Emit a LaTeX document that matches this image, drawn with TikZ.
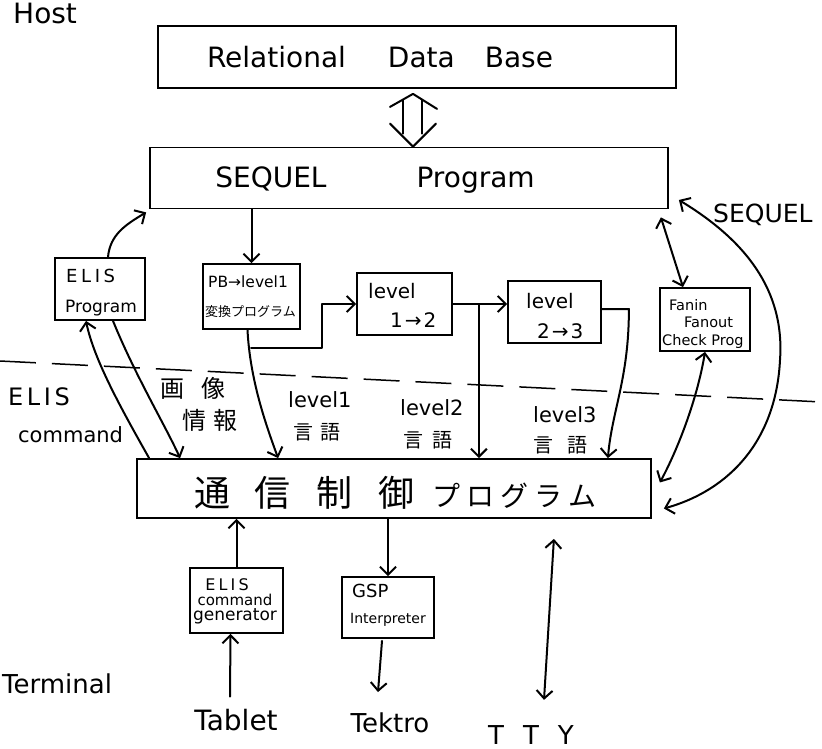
\documentclass[tikz,border=0pt]{standalone}
\usepackage{fontspec}
\setmainfont{DejaVu Sans}
\newfontfamily\jp{Noto Sans CJK JP}
\usetikzlibrary{arrows.meta,calc}
\begin{document}
\begin{tikzpicture}[x=1pt,y=-1pt,
  box/.style={draw, line width=1.8pt, inner sep=0pt},
  conn/.style={line width=2pt, line cap=round, line join=round},
  tipv/.tip={Straight Barb[length=8pt,width=16pt]},
  arr/.style={conn, -tipv},
  barr/.style={conn, tipv-tipv},
  txt/.style={inner sep=0pt},
  fs/.style={font=\fontsize{#1}{#1}\selectfont},
  jfs/.style={font=\jp\fontsize{#1}{#1}\selectfont},
]
\useasboundingbox (0,0) rectangle (822,749);

% boxes
\node[box, minimum width=518pt, minimum height=62pt] (rdb) at (417,57) {};
\node[box, minimum width=518pt, minimum height=61pt] (seq) at (409,178) {};
\node[box, minimum width=90pt, minimum height=62pt] (elisp) at (100,289) {};
\node[box, minimum width=97pt, minimum height=65pt] (pb) at (251.5,296.5) {};
\node[box, minimum width=95pt, minimum height=62pt] (l12) at (404.5,304) {};
\node[box, minimum width=93pt, minimum height=62pt] (l23) at (554.5,312) {};
\node[box, minimum width=90pt, minimum height=63pt] (fan) at (705,319.5) {};
\node[box, minimum width=514pt, minimum height=59pt] (comm) at (394,488.5) {};
\node[box, minimum width=93pt, minimum height=65pt] (gen) at (236.5,600.5) {};
\node[box, minimum width=92pt, minimum height=61pt] (gsp) at (388,607.5) {};

% texts
\node[txt, fs=28, anchor=base west] (host) at (13,24) {Host};
\node[txt, fs=28] (rdbt) at (380,57) {Relational\hspace{42pt}Data\hspace{30pt}Base};
\node[txt, fs=28, anchor=base] (seqt) at (375,187) {SEQUEL\hspace{90pt}Program};

\node[txt, fs=18, anchor=base west] (elisp1) at (66,282) {\addfontfeatures{LetterSpace=20}ELIS};
\node[txt, fs=17, anchor=base west] (elisp2) at (65,312) {Program};

\node[txt, fs=15.5, anchor=base west] (pb1) at (208,287) {PB→level1};
\node[txt, jfs=13, anchor=base west] (pb2) at (205,316) {変換プログラム};

\node[txt, fs=20, anchor=base west] (l12a) at (368,298) {level};
\node[txt, fs=20, anchor=base west] (l12b) at (390,327) {\addfontfeatures{LetterSpace=10}1→2};
\node[txt, fs=20, anchor=base west] (l23a) at (526,308) {level};
\node[txt, fs=20, anchor=base west] (l23b) at (537,338) {\addfontfeatures{LetterSpace=10}2→3};

\node[txt, fs=14.5, anchor=base west] (fan1) at (669,310) {Fanin};
\node[txt, fs=14.5, anchor=base west] (fan2) at (684,327) {Fanout};
\node[txt, fs=14.5, anchor=base west] (fan3) at (662,345) {Check Prog};

\node[txt, fs=24, anchor=base west] (elisl) at (8,405) {\addfontfeatures{LetterSpace=15}ELIS};
\node[txt, fs=21, anchor=base west] (cmdl) at (18,442) {command};
\node[txt, jfs=24, anchor=west] (gazo) at (160,388) {画\hspace{17pt}像};
\node[txt, jfs=24, anchor=west] (joho) at (182,420) {情\hspace{7pt}報};

\node[txt, fs=21, anchor=base west] (lv1) at (288,407) {level1};
\node[txt, jfs=20, anchor=west] (lg1) at (293,432) {言\hspace{7pt}語};
\node[txt, fs=21, anchor=base west] (lv2) at (400,415) {level2};
\node[txt, jfs=20, anchor=west] (lg2) at (403,440) {言\hspace{9pt}語};
\node[txt, fs=21, anchor=base west] (lv3) at (533,422) {level3};
\node[txt, jfs=20, anchor=west] (lg3) at (533,445) {言\hspace{14pt}語};

\node[txt, fs=25, anchor=base west] (seql) at (713,222) {SEQUEL};

\node[txt, jfs=36, anchor=west] (commt) at (194,493) {通\hspace{24pt}信\hspace{26pt}制\hspace{26pt}御\hspace{18pt}{\fontsize{28}{28}\selectfont プ\hspace{6pt}ロ\hspace{6pt}グ\hspace{6pt}ラ\hspace{6pt}ム}};

\node[txt, fs=16, anchor=base] (gen1) at (227,590) {\addfontfeatures{LetterSpace=20}ELIS};
\node[txt, fs=15, anchor=base] (gen2) at (235,605) {command};
\node[txt, fs=17, anchor=base] (gen3) at (235,620) {generator};

\node[txt, fs=18, anchor=base west] (gsp1) at (352,597) {GSP};
\node[txt, fs=14, anchor=base] (gsp2) at (388,623) {Interpreter};

\node[txt, fs=26, anchor=base west] (term) at (2,693) {Terminal};
\node[txt, fs=28, anchor=base] (tab) at (236,730) {Tablet};
\node[txt, fs=26, anchor=base] (tek) at (390,732) {Tektro};
\node[txt, fs=26, anchor=base] (tty) at (531,744) {T\hspace{19pt}T\hspace{19pt}Y};

% dashed separator
\coordinate (dl) at (0,361);
\coordinate (dr) at (822,402);
\draw[line width=1.5pt, dash pattern=on 36pt off 16pt] (dl) -- (dr);

% hollow double arrow between data base and SEQUEL program
\coordinate (ta) at ($(rdb.south)+(-4,5)$);
\coordinate (ba) at ($(seq.north)+(4,0)$);
\draw[conn] ($(ta)+(-23,13)$) -- (ta) -- ($(ta)+(24,15)$);
\draw[conn] ($(ba)+(-23,-23)$) -- (ba) -- ($(ba)+(23,-23)$);
\draw[conn] ($(ta)+(-10,6)$) -- ($(ba)+(-10,-13)$);
\draw[conn] ($(ta)+(9,6)$) -- ($(ba)+(9,-13)$);

% connectors
\draw[arr] ($(elisp.north)+(8,0)$) .. controls (110,235) and (125,225) .. ($(seq.south west)+(-3,3)$);
\draw[arr] (pb.north |- seq.south) -- (pb.north);
\draw[arr] ($(pb.south)+(-4,0)$) .. controls (250,380) and (266,425) .. ($(comm.north west)+(142,0)$);
\coordinate (br) at (251,348);
\draw[arr] (br) -- ++(71,0) |- (l12.west);
\draw[arr] (l12.east) -- (l12.east -| l23.west);
\coordinate (drop) at ($(l12.east)+(26,0)$);
\draw[arr] (drop) -- (drop |- comm.north);
\draw[arr] ($(l23.east)+(0,-3)$) -- ++(27,0) .. controls +(0,70) and (612,410) .. ($(comm.north east)+(-44,0)$);

\draw[arr] ($(comm.north west)+(13,0)$) .. controls (122,410) and (94,360) .. ($(elisp.south)+(-14,0)$);
\draw[arr] ($(elisp.south)+(13,0)$) .. controls (135,375) and (165,425) .. ($(comm.north west)+(44,0)$);

\draw[barr] ($(seq.south east)+(-8,8)$) -- ($(fan.north)+(-22,0)$);
\draw[barr] (fan.south) .. controls (698,395) and (680,445) .. ($(comm.east)+(8,-6)$);
\draw[barr] ($(seq.east)+(10,22)$) .. controls (745,240) and (785,290) .. (780,360) .. controls (776,440) and (730,490) .. ($(comm.east)+(12,20)$);

\draw[arr] (gen.north) -- (gen.north |- comm.south);
\draw[arr] ($(tab.north)+(-6,-12)$) -- ($(gen.south)+(-6,0)$);
\draw[arr] (gsp.north |- comm.south) -- (gsp.north);
\draw[arr] ($(gsp.south)+(-6,2)$) -- ($(tek.north)+(-12,-20)$);
\draw[barr] ($(comm.south east)+(-98,20)$) -- ($(tty.north)+(13,-25)$);
\end{tikzpicture}
\end{document}
